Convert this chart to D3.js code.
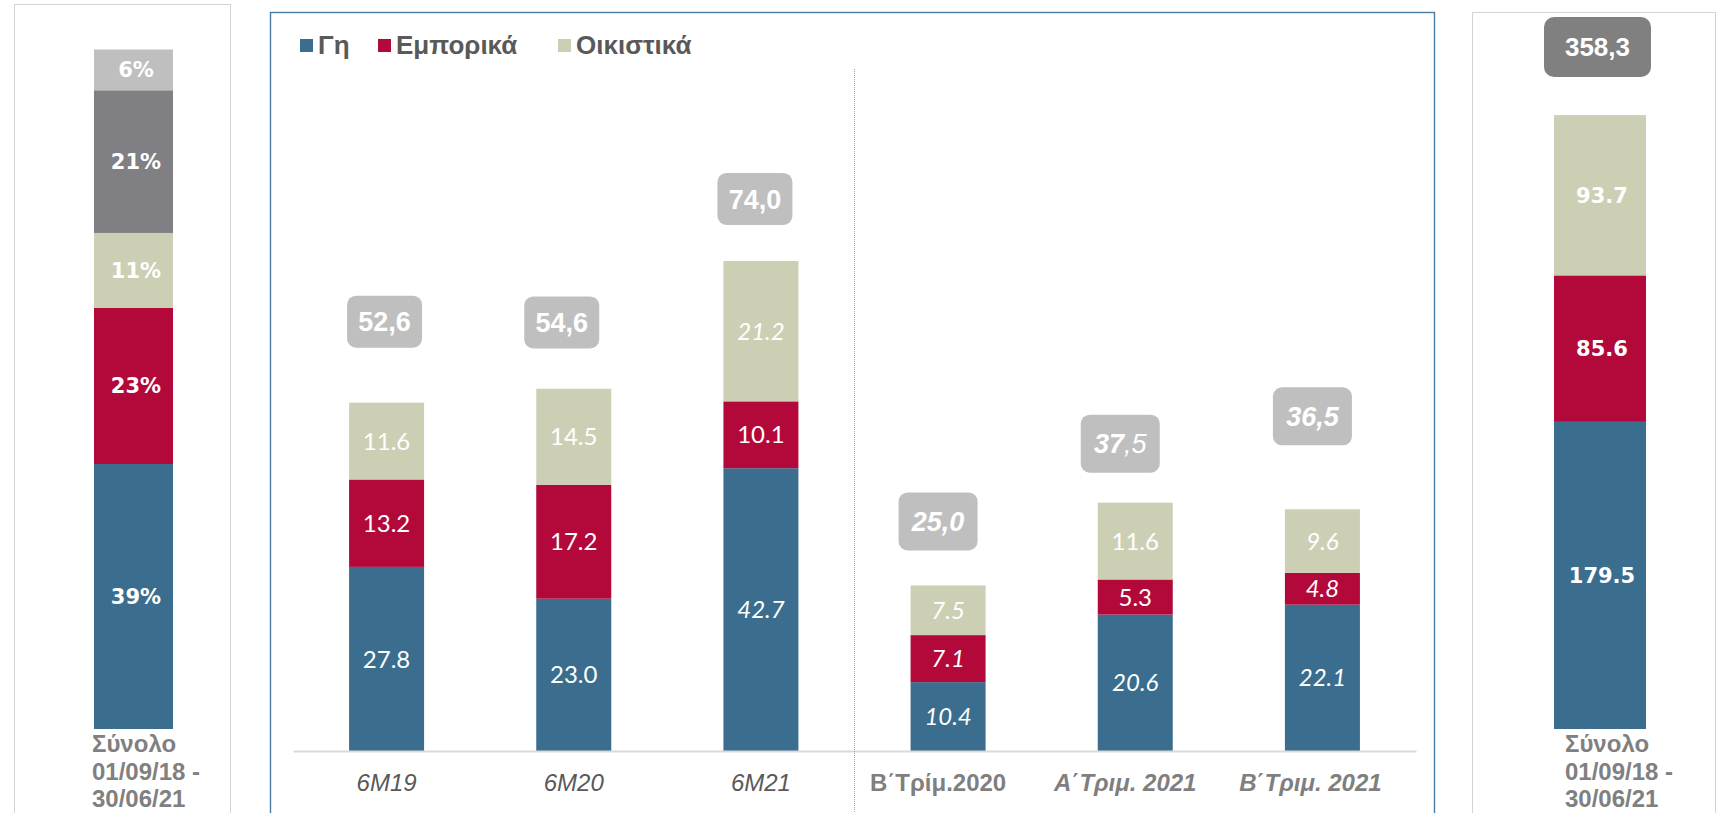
<!DOCTYPE html>
<html>
<head>
<meta charset="utf-8">
<script src="https://cdn.jsdelivr.net/npm/d3@7"></script>
<style>
  html, body { margin: 0; padding: 0; background: #ffffff; }
  svg { display: block; }
</style>
</head>
<body>
<svg id="chart" width="1724" height="813"></svg>
<script>
// ---- data -------------------------------------------------------------
const categories = ["6M19", "6M20", "6M21", "Β΄Τρίμ.2020", "Α΄Τριμ. 2021", "Β΄Τριμ. 2021"];
const seriesNames = ["Γη", "Εμπορικά", "Οικιστικά"];
const landValues = [27.8, 23.0, 42.7, 10.4, 20.6, 22.1];
const commercialValues = [13.2, 17.2, 10.1, 7.1, 5.3, 4.8];
const residentialValues = [11.6, 14.5, 21.2, 7.5, 11.6, 9.6];
const periodTotals = [52.6, 54.6, 74.0, 25.0, 37.5, 36.5];

// cumulative share since 01/09/18 (percent, bottom to top)
const shareValues = [39, 23, 11, 21, 6];
// cumulative amounts since 01/09/18 (bottom to top)
const cumulativeValues = [179.5, 85.6, 93.7];
const cumulativeTotal = 358.3;
const totalLabelLines = ["Σύνολο", "01/09/18 -", "30/06/21"];

// ---- styling ----------------------------------------------------------
const seriesColors = ["#3b6e8e", "#b3093a", "#cdcfb4"];
const shareColors = ["#3b6e8e", "#b3093a", "#cdcfb4", "#807f84", "#bfbfbf"];
// which segment labels are set in italics (per category, per series)
const italicSeg = [
  [false, false, false],
  [false, false, false],
  [true, false, true],
  [true, true, true],
  [true, false, false],
  [true, true, true]
];
const italicCat = [true, true, true, false, true, true];
// horizontal nudge of the category captions
const catNudge = [0, 0, 0, -10, -10, -12];
// badge placement: horizontal nudge from bar centre, gap above bar top
const badgeNudge = [[-2, 55], [-12, 41], [-6, 36], [-10, 35], [-15, 30], [-10, 64]];

const svg = d3.select("#chart");
const fmtComma = d3.format(".1f");
const comma = v => fmtComma(v).replace(".", ",");

// ---- frames -----------------------------------------------------------
svg.append("rect").attr("x", 14.5).attr("y", 4.5).attr("width", 216).attr("height", 830)
  .attr("fill", "none").attr("stroke", "#a6a6a6").attr("stroke-width", 1).attr("stroke-dasharray", "1,1");
svg.append("rect").attr("x", 1472.5).attr("y", 12.5).attr("width", 243).attr("height", 830)
  .attr("fill", "none").attr("stroke", "#a6a6a6").attr("stroke-width", 1).attr("stroke-dasharray", "1,1");
svg.append("rect").attr("x", 270.5).attr("y", 12.5).attr("width", 1164).attr("height", 830)
  .attr("fill", "none").attr("stroke", "#4a7ca3").attr("stroke-width", 1.4);

// ---- middle chart -----------------------------------------------------
const xStep = d3.scaleBand().domain(categories).range([293, 1416]);
const y = d3.scaleLinear().domain([0, 80]).range([751, 751 - 80 * 6.622]);

const barW = 75;
const stackData = categories.map((c, i) => ({
  cat: c, i,
  [seriesNames[0]]: landValues[i],
  [seriesNames[1]]: commercialValues[i],
  [seriesNames[2]]: residentialValues[i]
}));
const stacked = d3.stack().keys(seriesNames)(stackData);

const cx = c => xStep(c) + xStep.bandwidth() / 2;

const layers = svg.append("g").selectAll("g").data(stacked).join("g")
  .attr("fill", (d, k) => seriesColors[k]);
layers.selectAll("rect").data(d => d).join("rect")
  .attr("x", d => cx(d.data.cat) - barW / 2)
  .attr("width", barW)
  .attr("y", d => y(d[1]))
  .attr("height", d => y(d[0]) - y(d[1]));

// segment value labels
stacked.forEach((layer, k) => {
  svg.append("g").selectAll("text").data(layer).join("text")
    .attr("x", d => cx(d.data.cat))
    .attr("y", d => (y(d[0]) + y(d[1])) / 2)
    .attr("dy", "0.36em")
    .attr("text-anchor", "middle")
    .attr("fill", "#ffffff")
    .attr("font-family", "Lato, 'Open Sans', sans-serif")
    .attr("font-size", 24)
    .attr("font-style", d => italicSeg[d.data.i][k] ? "italic" : "normal")
    .text(d => (d[1] - d[0]).toFixed(1));
});

// axis baseline
const xAxis = d3.axisBottom(xStep).tickSize(0).tickPadding(0);
const axisG = svg.append("g").attr("transform", `translate(0,${y(0)})`).call(xAxis);
axisG.select(".domain").attr("stroke", "#d9d9d9").attr("stroke-width", 2.2);
axisG.selectAll(".tick text")
  .attr("x", (d, i) => catNudge[i])
  .attr("y", 40)
  .attr("dy", 0)
  .attr("font-family", "'Liberation Sans', Arial, sans-serif")
  .attr("font-size", 24)
  .attr("font-style", (d, i) => italicCat[i] ? "italic" : "normal")
  .attr("font-weight", (d, i) => i < 3 ? "normal" : "bold")
  .attr("fill", (d, i) => i < 3 ? "#595959" : "#7f7f7f");

// dotted separator between half-year and quarterly figures
const sepX = xStep(categories[3]);
svg.append("line").attr("x1", sepX).attr("x2", sepX).attr("y1", 69).attr("y2", 813)
  .attr("stroke", "#a6a6a6").attr("stroke-width", 1).attr("stroke-dasharray", "1,1");

// total badges
categories.forEach((c, i) => {
  const quarter = i >= 3;
  const bw = quarter ? 79 : 75;
  const bh = quarter ? 58 : 52;
  const bx = cx(c) + badgeNudge[i][0] - bw / 2;
  const by = y(periodTotals[i]) - badgeNudge[i][1] - bh;
  svg.append("rect").attr("x", bx).attr("y", by).attr("width", bw).attr("height", bh)
    .attr("rx", 9).attr("fill", "#bfbfbf");
  const t = svg.append("text")
    .attr("x", bx + bw / 2).attr("y", by + bh / 2).attr("dy", "0.36em")
    .attr("text-anchor", "middle").attr("fill", "#ffffff")
    .attr("font-family", "'Liberation Sans', Arial, sans-serif")
    .attr("font-size", 27).attr("font-weight", "bold")
    .attr("font-style", quarter ? "italic" : "normal");
  const s = comma(periodTotals[i]);
  if (i === 4) {
    const parts = s.split(",");
    t.append("tspan").text(parts[0]);
    t.append("tspan").attr("font-weight", "normal").text("," + parts[1]);
  } else {
    t.text(s);
  }
});

// legend
const legendX = [300, 378, 558];
const legend = svg.append("g").selectAll("g").data(seriesNames).join("g")
  .attr("transform", (d, i) => `translate(${legendX[i]},39)`);
legend.append("rect").attr("width", 13).attr("height", 13).attr("fill", (d, i) => seriesColors[i]);
legend.append("text").attr("x", 18).attr("y", 15)
  .attr("font-family", "'Liberation Sans', Arial, sans-serif")
  .attr("font-size", 26).attr("font-weight", "bold").attr("fill", "#595959")
  .text(d => d);

// ---- left: cumulative share bar ----------------------------------------
const yShare = d3.scaleLinear().domain([0, 100]).range([729, 49.5]);
const shareStack = d3.stack().keys(shareValues.map((v, i) => i))([Object.assign({}, shareValues)]);
const shareG = svg.append("g");
shareStack.forEach((layer, k) => {
  const d = layer[0];
  shareG.append("rect").attr("x", 94).attr("width", 79)
    .attr("y", yShare(d[1])).attr("height", yShare(d[0]) - yShare(d[1]))
    .attr("fill", shareColors[k]);
  shareG.append("text").attr("x", 136).attr("y", (yShare(d[0]) + yShare(d[1])) / 2)
    .attr("dy", "0.36em").attr("text-anchor", "middle").attr("fill", "#ffffff")
    .attr("font-family", "'DejaVu Sans', Verdana, sans-serif")
    .attr("font-size", 21).attr("font-weight", "bold")
    .text(shareValues[k] + "%");
});

// ---- right: cumulative amount bar --------------------------------------
const yCum = d3.scaleLinear().domain([0, 400]).range([729, 729 - 400 * 1.711]);
const cumStack = d3.stack().keys(cumulativeValues.map((v, i) => i))([Object.assign({}, cumulativeValues)]);
const cumG = svg.append("g");
cumStack.forEach((layer, k) => {
  const d = layer[0];
  cumG.append("rect").attr("x", 1554).attr("width", 92)
    .attr("y", yCum(d[1])).attr("height", yCum(d[0]) - yCum(d[1]))
    .attr("fill", seriesColors[k]);
  cumG.append("text").attr("x", 1602).attr("y", (yCum(d[0]) + yCum(d[1])) / 2)
    .attr("dy", "0.36em").attr("text-anchor", "middle").attr("fill", "#ffffff")
    .attr("font-family", "'DejaVu Sans', Verdana, sans-serif")
    .attr("font-size", 21).attr("font-weight", "bold")
    .text(cumulativeValues[k].toFixed(1));
});
cumG.append("rect").attr("x", 1544).attr("y", 17).attr("width", 107).attr("height", 60)
  .attr("rx", 10).attr("fill", "#808080");
cumG.append("text").attr("x", 1597.5).attr("y", 47).attr("dy", "0.36em")
  .attr("text-anchor", "middle").attr("fill", "#ffffff")
  .attr("font-family", "'Liberation Sans', Arial, sans-serif")
  .attr("font-size", 26).attr("font-weight", "bold")
  .text(comma(cumulativeTotal));

// category captions under the two side bars
[92, 1565].forEach(lx => {
  svg.append("g").selectAll("text").data(totalLabelLines).join("text")
    .attr("x", lx).attr("y", (d, i) => 752 + i * 27.5)
    .attr("font-family", "'Liberation Sans', Arial, sans-serif")
    .attr("font-size", 24).attr("font-weight", "bold").attr("fill", "#808080")
    .text(d => d);
});
</script>
</body>
</html>
